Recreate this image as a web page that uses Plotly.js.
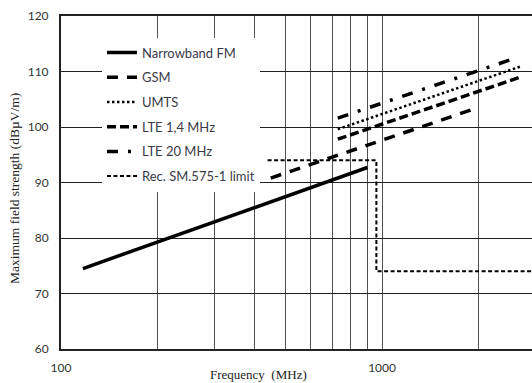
<!DOCTYPE html>
<html>
<head>
<meta charset="utf-8">
<script src="https://cdn.plot.ly/plotly-3.0.1.min.js"></script>
<style>html,body{margin:0;padding:0;background:#fff;}#chart{width:532px;height:383px;}</style>
</head>
<body>
<div id="chart"></div>
<script>
// Series data (frequency in MHz, field strength in dBµV/m)
const nbfmFreq = [117, 900];
const nbfmLevel = [74.5, 92.7];
const gsmFreq = [450, 1900];
const gsmLevel = [90.8, 103.1];
const umtsFreq = [728, 2700];
const umtsLevel = [99.6, 110.9];
const lte14Freq = [728, 2700];
const lte14Level = [97.8, 109.0];
const lte20Freq = [728, 2600];
const lte20Level = [101.6, 112.4];
const limitFreq = [440, 960, 960, 3000];
const limitLevel = [94, 94, 74, 74];

const seriesNames = ["Narrowband FM", "GSM", "UMTS", "LTE 1,4 MHz", "LTE 20 MHz", "Rec. SM.575-1 limit"];

// Axis ticks
const xTickVals = [100, 200, 300, 400, 500, 600, 700, 800, 900, 1000, 2000, 3000];
const xTickText = ["100", "", "", "", "", "", "", "", "", "1000", "", ""];
const yTickVals = [60, 70, 80, 90, 100, 110, 120];

const mk = (x, y, name, i, line) => ({
  x: x, y: y, name: name, type: "scatter", mode: "lines",
  legendgroup: "g" + i, line: Object.assign({color: "#000"}, line)
});

const traces = [
  mk(nbfmFreq, nbfmLevel, seriesNames[0], 0, {width: 3.5}),
  mk(gsmFreq, gsmLevel, seriesNames[1], 1, {width: 3.5, dash: "11px,9px"}),
  mk(umtsFreq, umtsLevel, seriesNames[2], 2, {width: 2.5, dash: "2.5px,2.5px"}),
  mk(lte14Freq, lte14Level, seriesNames[3], 3, {width: 3.5, dash: "9px,4px"}),
  mk(lte20Freq, lte20Level, seriesNames[4], 4, {width: 3.5, dash: "11px,10px,3px,10px"}),
  mk(limitFreq, limitLevel, seriesNames[5], 5, {width: 2, dash: "4px,2.5px"})
];

const layout = {
  width: 532, height: 383,
  margin: {l: 61, r: 0, t: 16, b: 34},
  paper_bgcolor: "#fff", plot_bgcolor: "#fff",
  showlegend: true,
  legend: {
    x: 0.087, y: 0.935, xanchor: "left", yanchor: "top",
    bgcolor: "#fff", borderwidth: 0,
    traceorder: "grouped", tracegroupgap: 4.8,
    font: {family: "Lato, 'Open Sans', sans-serif", size: 13, color: "#3a3a4a"}
  },
  xaxis: {
    type: "log", range: [2, 3.467],
    tickmode: "array", tickvals: xTickVals, ticktext: xTickText,
    ticks: "", showgrid: true, gridcolor: "#505050", gridwidth: 1,
    showline: true, linecolor: "#222", linewidth: 2, mirror: true,
    zeroline: false, ticklabelstandoff: 7,
    tickfont: {family: "Lato, sans-serif", size: 12, color: "#333"}
  },
  yaxis: {
    range: [60, 120], tickmode: "array", tickvals: yTickVals,
    ticks: "", showgrid: true, gridcolor: "#202020", gridwidth: 1,
    showline: true, linecolor: "#222", linewidth: 2, mirror: false,
    zeroline: false, ticklabelstandoff: 8,
    tickfont: {family: "Lato, sans-serif", size: 12, color: "#333"}
  },
  annotations: [
    {text: "Frequency  (MHz)", xref: "paper", yref: "paper", x: (258 - 61) / 471, y: -0.078,
     xanchor: "center", yanchor: "middle", showarrow: false,
     font: {family: "'Liberation Serif', serif", size: 13, color: "#222"}},
    {text: "Maximum field strength (dBµV/m)", xref: "paper", yref: "paper", x: -0.1, y: (349 - 188) / 333,
     xanchor: "center", yanchor: "middle", textangle: -90, showarrow: false,
     font: {family: "'Liberation Serif', serif", size: 13.5, color: "#222"}}
  ]
};

Plotly.newPlot("chart", traces, layout, {displayModeBar: false, staticPlot: true});
</script>
</body>
</html>
